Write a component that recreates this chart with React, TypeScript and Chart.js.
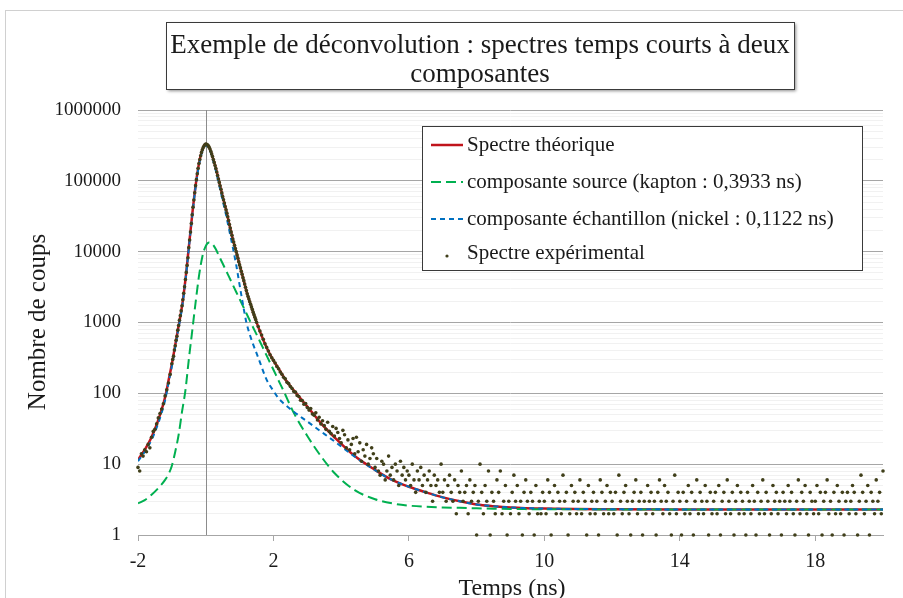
import React, { useEffect, useRef } from "react";
import { Chart, registerables } from "chart.js";

Chart.register(...registerables);

// ---------- data ----------
const titleLines = ["Exemple de déconvolution : spectres temps courts à deux", "composantes"];
const xAxisTitle = "Temps (ns)";
const yAxisTitle = "Nombre de coups";
const seriesNames = [
  "Spectre théorique",
  "composante source (kapton : 0,3933 ns)",
  "composante échantillon (nickel : 0,1122 ns)",
  "Spectre expérimental",
];

const xTickValues = [-2, 2, 6, 10, 14, 18];
const yDecades = [1, 10, 100, 1000, 10000, 100000, 1000000];
const yMinorFactors = [1, 2, 3, 4, 5, 6, 7, 8, 9];

// sample times (ns) of the fitted curves
const curveX = [
  -2, -1.8, -1.6, -1.4, -1.2, -1.1, -1.0,
  -0.9, -0.8, -0.7, -0.6, -0.5, -0.4, -0.3, -0.2, -0.1,
  0,
  0.1, 0.2, 0.3, 0.4, 0.5, 0.6, 0.7, 0.8, 0.9, 1.0, 1.1, 1.2, 1.3, 1.4, 1.5, 1.6,
  1.8, 2.0, 2.15, 2.3, 2.6, 3.0, 3.4, 3.8, 4.4, 5.0,
  5.5, 6.0, 6.5, 7.0, 7.5, 8.0, 8.5, 9.0,
  10, 12, 14, 16, 18, 20,
];
const theoY = [
  11.5, 16, 24, 42, 88, 150, 260,
  480, 900, 1700, 4000, 11500, 33000, 85000, 175000, 275000,
  330000,
  300000, 220000, 150000, 95000, 60000, 39000, 24000, 15000, 10000, 6500, 4300, 2800, 1960, 1400, 1010, 750,
  440, 290, 225, 170, 110, 65, 38, 24, 13, 8.3,
  6.0, 4.8, 4.0, 3.4, 3.0, 2.7, 2.55, 2.45,
  2.36, 2.31, 2.3, 2.3, 2.3, 2.3,
];
const sourceY = [
  2.8, 3.1, 3.7, 4.6, 6.0, 7.2, 9.5,
  15, 26, 55, 110, 300, 750, 1900, 4500, 8500,
  12000,
  13500, 12800, 10800, 8500, 6800, 5400, 4300, 3400, 2700, 2150, 1700, 1350, 1070, 850, 680, 540,
  340, 215, 152, 108, 53, 25, 13, 7.5, 4.3, 3.2,
  2.8, 2.6, 2.5, 2.45, 2.42, 2.38, 2.35, 2.33,
  2.31, 2.3, 2.3, 2.3, 2.3, 2.3,
];
const sampleY = [
  11, 15, 22, 38, 80, 140, 240,
  450, 850, 1600, 3850, 11000, 31500, 81000, 166000, 262000,
  316000,
  286000, 207000, 138000, 86000, 53000, 33000, 19500, 11500, 6500, 3400, 1800, 1000, 680, 490, 370, 275,
  155, 108, 85, 72, 55, 40, 29, 21, 12.8, 8.2,
  6.0, 4.8, 4.0, 3.4, 3.0, 2.7, 2.55, 2.45,
  2.36, 2.31, 2.3, 2.3, 2.3, 2.3,
];

// experimental counts, four channel blocks (start time, channel width)
const expStartA = -2;
const expStepA = 0.05;
const expCountsA = [9, 8, 14, 13, 16, 15, 19, 17, 24, 29, 31, 37, 45, 52, 60, 71, 92, 112, 140, 185];

const expStartB = -1;
const expStepB = 0.025;
const expCountsB = [
  262, 300, 335, 410, 470, 560, 640, 780, 905, 1080,
  1250, 1460, 1720, 2100, 2580, 3200, 4050, 5100, 6400, 8200,
  11400, 14600, 18900, 25000, 33200, 42500, 53500, 68000, 85500, 104000,
  126000, 150000, 175000, 200000, 226000, 252000, 274000, 294000, 311000, 323000,
  330000, 329000, 322000, 312000, 299000, 281000, 261000, 240000, 220000, 200000,
  182000, 165000, 149000, 133000, 119000, 106000, 95000, 85000, 76000, 67500,
  60000, 54000, 48500, 43500, 39000, 35000, 31000, 27500, 24200, 21500,
  19000, 17000, 15100, 13700, 12300, 11100, 10000, 9000, 8100, 7200,
  6500, 5900, 5300, 4800, 4300, 3900, 3500, 3150, 2820, 2550,
  2330, 2140, 1960, 1810, 1660, 1530, 1400, 1290, 1190, 1100,
];

const expStartC = 1.5;
const expStepC = 0.05;
const expCountsC = [
  1010, 880, 760, 665, 580, 500, 445, 395, 350, 318,
  292, 268, 240, 222, 200, 186, 168, 160, 143, 137,
  125, 117, 106, 104, 93, 90, 80, 79, 70, 72,
  63, 58, 61, 51, 49, 53, 42, 46, 37, 41,
  35, 31, 39, 29, 27, 34, 25, 32, 28, 23,
  20, 30, 26, 17, 22, 16, 19, 23, 14, 24,
  15, 20, 11, 16, 13, 19, 10, 12, 17, 14,
];

const expStartD = 5;
const expStepD = 0.05;
const expCountsD = [
  9, 12, 8, 7, 11, 10, 6, 8, 13, 7, 9, 6, 10, 8, 5, 11, 7, 9, 6, 8,
  7, 5, 10, 6, 4, 8, 6, 9, 5, 7, 4, 6, 8, 5, 3, 7, 5, 6, 4, 10,
  4, 6, 3, 5, 7, 4, 3, 6, 2, 5, 4, 8, 3, 4, 5, 2, 6, 3, 4, 5,
  1, 3, 10, 4, 2, 5, 3, 8, 1, 4, 3, 2, 6, 4, 8, 2, 3, 5, 1, 3,
  2, 4, 7, 3, 5, 2, 3, 1, 4, 6, 3, 2, 4, 3, 1, 5, 2, 3, 2, 4,
  3, 2, 6, 4, 1, 3, 5, 2, 4, 3, 2, 7, 3, 4, 1, 2, 5, 3, 4, 2,
  3, 6, 2, 4, 3, 1, 5, 2, 3, 4, 2, 3, 1, 6, 4, 2, 3, 5, 2, 4,
  3, 2, 4, 1, 7, 3, 2, 4, 5, 3, 2, 1, 3, 4, 6, 2, 3, 4, 1, 3,
  2, 5, 3, 4, 2, 3, 1, 4, 6, 3, 2, 5, 3, 4, 2, 1, 3, 7, 2, 4,
  3, 1, 4, 2, 3, 5, 2, 4, 1, 3, 6, 2, 4, 3, 2, 5, 3, 1, 4, 2,
  3, 4, 2, 5, 1, 3, 4, 2, 6, 3, 2, 4, 1, 3, 5, 2, 4, 3, 2, 1,
  4, 3, 2, 5, 3, 1, 4, 2, 3, 6, 2, 4, 3, 1, 2, 5, 3, 4, 2, 3,
  1, 4, 3, 2, 5, 3, 4, 2, 1, 3, 6, 2, 4, 3, 5, 2, 1, 4, 3, 2,
  3, 5, 2, 4, 1, 3, 4, 6, 2, 3, 1, 4, 2, 5, 3, 2, 4, 1, 3, 4,
  2, 3, 5, 4, 2, 1, 3, 7, 4, 2, 3, 5, 1, 4, 3, 2, 6, 3, 4, 2,
  8,
];

// ---------- styles ----------
const FONT = '"Liberation Serif", "Times New Roman", serif';
const RED = "#c0141c";
const GREEN = "#00b050";
const BLUE = "#0070c0";
const DOT = "#403f1a";
const MAJOR_GRID = "#a6a6a6";
const MINOR_GRID = "#f1f1f1";

function block(start: number, step: number, counts: number[]) {
  return counts.map((c, i) => ({ x: Math.round((start + i * step) * 1000) / 1000, y: c }));
}

const decorPlugin = {
  id: "decor",
  beforeDatasetsDraw(chart: any) {
    const ctx = chart.ctx;
    const xs = chart.scales.x;
    const area = chart.chartArea;
    const px = Math.round(xs.getPixelForValue(0)) + 0.5;
    ctx.save();
    ctx.strokeStyle = "#8c8c8c";
    ctx.lineWidth = 1;
    ctx.beginPath();
    ctx.moveTo(px, area.top);
    ctx.lineTo(px, area.bottom);
    ctx.stroke();
    ctx.restore();
  },
  afterDraw(chart: any) {
    const ctx = chart.ctx;
    ctx.save();
    // outer chart frame
    ctx.strokeStyle = "#d0d0d0";
    ctx.lineWidth = 1;
    ctx.strokeRect(5.5, 10.5, 1200, 1200);

    // title box
    ctx.save();
    ctx.shadowColor = "rgba(0,0,0,0.45)";
    ctx.shadowOffsetX = 2;
    ctx.shadowOffsetY = 2;
    ctx.shadowBlur = 3;
    ctx.fillStyle = "#ffffff";
    ctx.fillRect(166, 22, 628, 67);
    ctx.restore();
    ctx.strokeStyle = "#3a3a3a";
    ctx.strokeRect(166.5, 22.5, 628, 67);
    ctx.fillStyle = "#1a1a1a";
    ctx.font = `27px ${FONT}`;
    ctx.textAlign = "center";
    ctx.textBaseline = "alphabetic";
    ctx.fillText(titleLines[0], 480, 53);
    ctx.fillText(titleLines[1], 480, 82);

    // axis titles
    ctx.font = `24px ${FONT}`;
    ctx.fillText(xAxisTitle, 512, 595);
    ctx.save();
    ctx.translate(45, 322);
    ctx.rotate(-Math.PI / 2);
    ctx.font = `25px ${FONT}`;
    ctx.fillText(yAxisTitle, 0, 0);
    ctx.restore();

    // legend
    const lx = 422, ly = 126, lw = 440, lh = 144;
    ctx.fillStyle = "#ffffff";
    ctx.fillRect(lx, ly, lw, lh);
    ctx.strokeStyle = "#3a3a3a";
    ctx.lineWidth = 1;
    ctx.strokeRect(lx + 0.5, ly + 0.5, lw, lh);
    const rowsY = [145, 182, 219, 253];
    const ds = chart.data.datasets;
    for (let i = 0; i < 4; i++) {
      const y = rowsY[i];
      const d = ds[i];
      if (i < 3) {
        ctx.save();
        ctx.strokeStyle = d.borderColor;
        ctx.lineWidth = d.borderWidth;
        ctx.setLineDash(d.borderDash || []);
        ctx.beginPath();
        ctx.moveTo(431, y);
        ctx.lineTo(463, y);
        ctx.stroke();
        ctx.restore();
      } else {
        ctx.fillStyle = d.pointBackgroundColor;
        ctx.beginPath();
        ctx.arc(447, y + 3, 1.6, 0, Math.PI * 2);
        ctx.fill();
      }
      ctx.fillStyle = "#1a1a1a";
      ctx.font = `21px ${FONT}`;
      ctx.textAlign = "left";
      ctx.textBaseline = "middle";
      ctx.fillText(d.label, 467, y);
    }
    ctx.restore();
  },
};

export default function App() {
  const canvasRef = useRef<HTMLCanvasElement | null>(null);

  useEffect(() => {
    const canvas = canvasRef.current;
    if (!canvas) return;

    const expData = [
      ...block(expStartA, expStepA, expCountsA),
      ...block(expStartB, expStepB, expCountsB),
      ...block(expStartC, expStepC, expCountsC),
      ...block(expStartD, expStepD, expCountsD),
    ];
    const curve = (ys: number[]) => curveX.map((x, i) => ({ x, y: ys[i] }));
    const yTickPositions: number[] = [];
    yDecades.forEach((d, k) => {
      if (k === yDecades.length - 1) {
        yTickPositions.push(d);
      } else {
        yMinorFactors.forEach((f) => yTickPositions.push(d * f));
      }
    });

    const chart = new Chart(canvas, {
      type: "scatter",
      data: {
        datasets: [
          {
            label: seriesNames[0],
            data: curve(theoY),
            showLine: true,
            borderColor: RED,
            backgroundColor: RED,
            borderWidth: 2.5,
            pointRadius: 0,
            cubicInterpolationMode: "monotone",
            order: 3,
          },
          {
            label: seriesNames[1],
            data: curve(sourceY),
            showLine: true,
            borderColor: GREEN,
            backgroundColor: GREEN,
            borderWidth: 2,
            borderDash: [10, 5],
            pointRadius: 0,
            cubicInterpolationMode: "monotone",
            order: 2,
          },
          {
            label: seriesNames[2],
            data: curve(sampleY),
            showLine: true,
            borderColor: BLUE,
            backgroundColor: BLUE,
            borderWidth: 2,
            borderDash: [5, 4],
            pointRadius: 0,
            cubicInterpolationMode: "monotone",
            order: 1,
          },
          {
            label: seriesNames[3],
            data: expData,
            showLine: false,
            pointRadius: 1.8,
            pointBorderWidth: 0,
            pointBackgroundColor: DOT,
            backgroundColor: DOT,
            borderColor: DOT,
            clip: 4,
            order: 0,
          },
        ],
      } as any,
      options: {
        animation: false,
        responsive: false,
        maintainAspectRatio: false,
        events: [],
        layout: { padding: { top: 110, right: 20, bottom: 0, left: 0 } },
        plugins: {
          legend: { display: false },
          title: { display: false },
          tooltip: { enabled: false },
        },
        scales: {
          x: {
            type: "linear",
            min: -2,
            max: 20,
            afterBuildTicks: (scale: any) => {
              scale.ticks = xTickValues.map((v) => ({ value: v }));
            },
            afterFit: (scale: any) => {
              scale.height = 63;
            },
            ticks: {
              autoSkip: false,
              maxRotation: 0,
              padding: 9,
              color: "#1a1a1a",
              font: { family: FONT, size: 20 },
              callback: (v: any) => String(v),
            },
            grid: {
              display: true,
              drawOnChartArea: false,
              drawTicks: true,
              tickLength: 6,
              color: MAJOR_GRID,
            },
            border: { display: true, color: MAJOR_GRID },
          },
          y: {
            type: "logarithmic",
            min: 1,
            max: 1000000,
            afterBuildTicks: (scale: any) => {
              scale.ticks = yTickPositions.map((v) => ({ value: v, major: yDecades.includes(v) }));
            },
            afterFit: (scale: any) => {
              scale.width = 138;
            },
            ticks: {
              autoSkip: false,
              padding: 17,
              color: "#1a1a1a",
              font: { family: FONT, size: 19 },
              callback: (v: any) => (yDecades.includes(Number(v)) ? String(v) : ""),
            },
            grid: {
              drawTicks: false,
              color: (c: any) => (c.tick && yDecades.includes(c.tick.value) ? MAJOR_GRID : MINOR_GRID),
            },
            border: { display: false },
          },
        },
      } as any,
      plugins: [decorPlugin],
    });

    return () => chart.destroy();
  }, []);

  return (
    <div style={{ position: "absolute", left: 0, top: 0, width: 903, height: 598, background: "#fff" }}>
      <canvas ref={canvasRef} width={903} height={598} style={{ display: "block" }} />
    </div>
  );
}
